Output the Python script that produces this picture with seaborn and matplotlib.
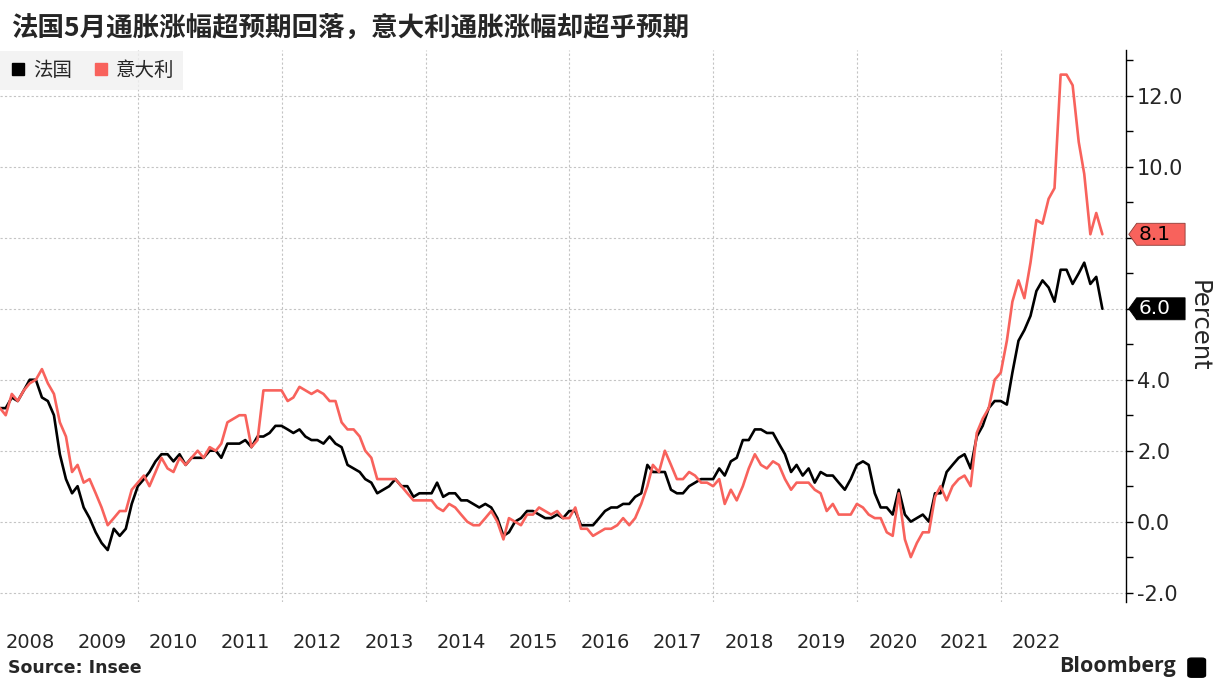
import numpy as np
import pandas as pd
import matplotlib
matplotlib.use("Agg")
import matplotlib.pyplot as plt
import matplotlib.dates as mdates
from matplotlib.lines import Line2D
from matplotlib.patches import Polygon, FancyBboxPatch
from matplotlib.ticker import FixedLocator, MultipleLocator, FuncFormatter
from matplotlib.transforms import blended_transform_factory
import seaborn as sns

sns.set_theme(style="white")
plt.rcParams["font.family"] = ["DejaVu Sans", "Noto Sans CJK SC"]
CJK = ["Noto Sans CJK SC", "DejaVu Sans"]

# HICP, % YoY, monthly Jan 2008 - May 2023
france = [
    3.2, 3.2, 3.5, 3.4, 3.7, 4.0, 4.0, 3.5, 3.4, 3.0, 1.9, 1.2,        # 2008
    0.8, 1.0, 0.4, 0.1, -0.3, -0.6, -0.8, -0.2, -0.4, -0.2, 0.5, 1.0,  # 2009
    1.2, 1.4, 1.7, 1.9, 1.9, 1.7, 1.9, 1.6, 1.8, 1.8, 1.8, 2.0,        # 2010
    2.0, 1.8, 2.2, 2.2, 2.2, 2.3, 2.1, 2.4, 2.4, 2.5, 2.7, 2.7,        # 2011
    2.6, 2.5, 2.6, 2.4, 2.3, 2.3, 2.2, 2.4, 2.2, 2.1, 1.6, 1.5,        # 2012
    1.4, 1.2, 1.1, 0.8, 0.9, 1.0, 1.2, 1.0, 1.0, 0.7, 0.8, 0.8,        # 2013
    0.8, 1.1, 0.7, 0.8, 0.8, 0.6, 0.6, 0.5, 0.4, 0.5, 0.4, 0.1,        # 2014
    -0.4, -0.3, 0.0, 0.1, 0.3, 0.3, 0.2, 0.1, 0.1, 0.2, 0.1, 0.3,      # 2015
    0.3, -0.1, -0.1, -0.1, 0.1, 0.3, 0.4, 0.4, 0.5, 0.5, 0.7, 0.8,     # 2016
    1.6, 1.4, 1.4, 1.4, 0.9, 0.8, 0.8, 1.0, 1.1, 1.2, 1.2, 1.2,        # 2017
    1.5, 1.3, 1.7, 1.8, 2.3, 2.3, 2.6, 2.6, 2.5, 2.5, 2.2, 1.9,        # 2018
    1.4, 1.6, 1.3, 1.5, 1.1, 1.4, 1.3, 1.3, 1.1, 0.9, 1.2, 1.6,        # 2019
    1.7, 1.6, 0.8, 0.4, 0.4, 0.2, 0.9, 0.2, 0.0, 0.1, 0.2, 0.0,        # 2020
    0.8, 0.8, 1.4, 1.6, 1.8, 1.9, 1.5, 2.4, 2.7, 3.2, 3.4, 3.4,        # 2021
    3.3, 4.2, 5.1, 5.4, 5.8, 6.5, 6.8, 6.6, 6.2, 7.1, 7.1, 6.7,        # 2022
    7.0, 7.3, 6.7, 6.9, 6.0,                                           # 2023
]
italy = [
    3.2, 3.0, 3.6, 3.4, 3.7, 3.9, 4.0, 4.3, 3.9, 3.6, 2.8, 2.4,        # 2008
    1.4, 1.6, 1.1, 1.2, 0.8, 0.4, -0.1, 0.1, 0.3, 0.3, 0.9, 1.1,       # 2009
    1.3, 1.0, 1.4, 1.8, 1.5, 1.4, 1.8, 1.6, 1.8, 2.0, 1.8, 2.1,        # 2010
    2.0, 2.2, 2.8, 2.9, 3.0, 3.0, 2.1, 2.3, 3.7, 3.7, 3.7, 3.7,        # 2011
    3.4, 3.5, 3.8, 3.7, 3.6, 3.7, 3.6, 3.4, 3.4, 2.8, 2.6, 2.6,        # 2012
    2.4, 2.0, 1.8, 1.2, 1.2, 1.2, 1.2, 1.0, 0.8, 0.6, 0.6, 0.6,        # 2013
    0.6, 0.4, 0.3, 0.5, 0.4, 0.2, 0.0, -0.1, -0.1, 0.1, 0.3, 0.0,      # 2014
    -0.5, 0.1, 0.0, -0.1, 0.2, 0.2, 0.4, 0.3, 0.2, 0.3, 0.1, 0.1,      # 2015
    0.4, -0.2, -0.2, -0.4, -0.3, -0.2, -0.2, -0.1, 0.1, -0.1, 0.1, 0.5,  # 2016
    1.0, 1.6, 1.4, 2.0, 1.6, 1.2, 1.2, 1.4, 1.3, 1.1, 1.1, 1.0,        # 2017
    1.2, 0.5, 0.9, 0.6, 1.0, 1.5, 1.9, 1.6, 1.5, 1.7, 1.6, 1.2,        # 2018
    0.9, 1.1, 1.1, 1.1, 0.9, 0.8, 0.3, 0.5, 0.2, 0.2, 0.2, 0.5,        # 2019
    0.4, 0.2, 0.1, 0.1, -0.3, -0.4, 0.8, -0.5, -1.0, -0.6, -0.3, -0.3,  # 2020
    0.7, 1.0, 0.6, 1.0, 1.2, 1.3, 1.0, 2.5, 2.9, 3.2, 4.0, 4.2,        # 2021
    5.1, 6.2, 6.8, 6.3, 7.3, 8.5, 8.4, 9.1, 9.4, 12.6, 12.6, 12.3,     # 2022
    10.7, 9.8, 8.1, 8.7, 8.1,                                          # 2023
]
dates = pd.date_range("2008-01-31", periods=len(france), freq="ME")
year_labels = list(range(2008, 2023))
grid_years = list(range(2010, 2023, 2))
names = ["法国", "意大利"]
colors = {"法国": "#000000", "意大利": "#f8625c"}

df = pd.DataFrame({
    "date": np.concatenate([dates, dates]),
    "value": france + italy,
    "country": [names[0]] * len(france) + [names[1]] * len(italy),
})

fig = plt.figure(figsize=(12.14, 6.82), dpi=100)
ax = fig.add_axes([0.0, 0.117, 0.9275, 0.81])

sns.lineplot(data=df, x="date", y="value", hue="country", palette=colors,
             linewidth=1.9, legend=False, ax=ax)

ax.set_xlim(pd.Timestamp("2008-01-31"), pd.Timestamp("2023-09-28"))
ax.set_ylim(-2.27, 13.3)

for s in ["left", "top", "bottom"]:
    ax.spines[s].set_visible(False)
ax.spines["right"].set_color("black")
ax.spines["right"].set_linewidth(1.0)

# tick labels hidden behind the last-value tags
last_vals = [france[-1], italy[-1]]


def ylab(v, pos):
    if any(abs(v - lv) < 0.6 for lv in last_vals):
        return ""
    return f"{v:.1f}"


# y axis on right
ax.yaxis.tick_right()
ax.yaxis.set_major_locator(MultipleLocator(2))
ax.yaxis.set_minor_locator(MultipleLocator(1))
ax.yaxis.set_major_formatter(FuncFormatter(ylab))
ax.tick_params(axis="y", which="both", direction="out", length=5, width=1,
               color="black", labelsize=15, pad=3, right=True, left=False)
ax.yaxis.set_label_position("right")
ax.set_ylabel("Percent", rotation=270, fontsize=17.5, labelpad=2, va="bottom")

# x axis: year labels at mid-year, grid at even-year starts
ax.xaxis.set_major_locator(FixedLocator([mdates.date2num(pd.Timestamp(f"{y}-07-01")) for y in year_labels]))
ax.xaxis.set_major_formatter(mdates.DateFormatter("%Y"))
ax.xaxis.set_minor_locator(FixedLocator([mdates.date2num(pd.Timestamp(f"{y}-01-01")) for y in grid_years]))
ax.tick_params(axis="x", which="both", length=0, labelsize=14, pad=22)
ax.set_xlabel("")

grid_kw = dict(color="#c4c4c4", linestyle=(0, (2, 2)), linewidth=0.8)
ax.xaxis.grid(True, which="minor", **grid_kw)
ax.xaxis.grid(False, which="major")
ax.yaxis.grid(True, which="major", **grid_kw)
ax.set_axisbelow(True)

# last-value tags on right axis
tr = blended_transform_factory(ax.transAxes, ax.transData)
for vals, face, txtc in [(italy, "#f8625c", "black"), (france, "black", "white")]:
    v = vals[-1]
    h = 0.31
    poly = Polygon([[1.0025, v], [1.0095, v + h], [1.0525, v + h], [1.0525, v - h], [1.0095, v - h]],
                   closed=True, transform=tr, clip_on=False, facecolor=face,
                   edgecolor="#8a3a36" if face != "black" else "black", linewidth=0.6, zorder=5)
    ax.add_patch(poly)
    ax.text(1.0115, v, f"{v:.1f}", transform=tr, ha="left", va="center",
            fontsize=14.5, color=txtc, zorder=6, clip_on=False)

# title and legend
fig.text(0.009, 0.958, "法国5月通胀涨幅超预期回落，意大利通胀涨幅却超乎预期",
         fontsize=19.1, fontweight="bold", family=CJK, va="center", ha="left")

handles = [Line2D([], [], marker="s", linestyle="none", markersize=9,
                  markerfacecolor=colors[n], markeredgecolor=colors[n]) for n in names]
leg = fig.legend(handles, names, loc="upper left", bbox_to_anchor=(0.0, 0.925),
                 borderaxespad=0.0, ncol=2, frameon=True, fancybox=False, borderpad=0.45,
                 handletextpad=0.25, columnspacing=1.0, handlelength=1.0,
                 prop={"family": CJK, "size": 14, "weight": "light"})
leg.get_frame().set_facecolor("#f0f0f0")
leg.get_frame().set_edgecolor("none")

# footer
fig.text(0.007, 0.021, "Source: Insee", fontsize=12.5, fontweight="bold", va="center", ha="left")
fig.text(0.969, 0.022, "Bloomberg", fontsize=15.5, fontweight="bold", va="center", ha="right",
         family=["Open Sans", "DejaVu Sans"])
logo = FancyBboxPatch((0.9795, 0.008), 0.0125, 0.026, boxstyle="round,pad=0.001,rounding_size=0.003",
                      transform=fig.transFigure, facecolor="black", edgecolor="black")
fig.add_artist(logo)

fig.savefig("out.png", dpi=100)
